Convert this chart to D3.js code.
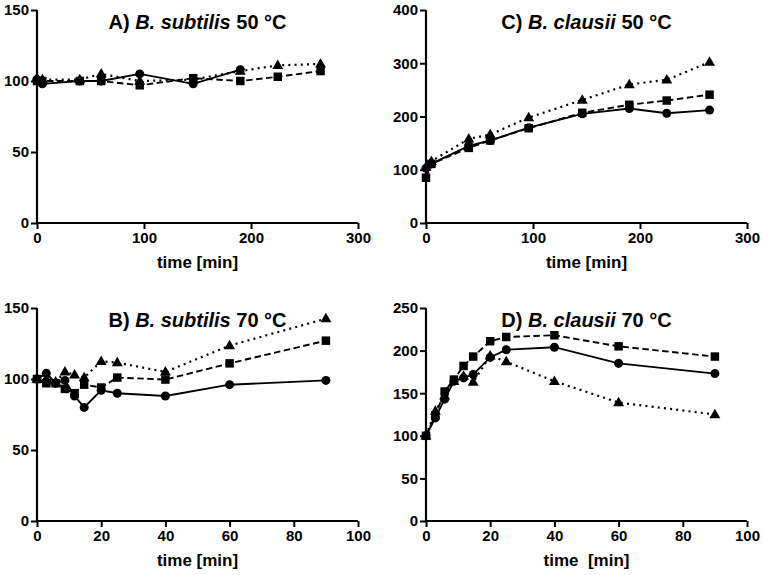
<!DOCTYPE html>
<html>
<head>
<meta charset="utf-8">
<script src="https://cdn.jsdelivr.net/npm/d3@7"></script>
<style>
  html, body { margin: 0; padding: 0; background: #fff; }
  svg { display: block; }
  text { font-family: "Liberation Sans", Arial, sans-serif; font-weight: bold; fill: #000; }
</style>
</head>
<body>
<svg id="chart" width="763" height="575"></svg>
<script>
// ---------- DATA ----------
// Panel A: B. subtilis 50 °C
const timeA_circle = [0, 5, 40, 60, 96, 146, 190];
const A_circle   = [101, 98, 100, 100, 105, 98, 108];
const timeA      = [0, 5, 40, 60, 96, 146, 190, 225, 265];
const A_square   = [100, 100, 100, 100, 97, 102, 100, 103, 107];
const A_triangle = [102, 101, 101, 105, 100, 101, 107, 111, 112];

// Panel C: B. clausii 50 °C
const timeC      = [0, 5, 40, 60, 96, 146, 190, 225, 265];
const C_circle   = [103, 111, 145, 155, 179, 205, 215, 206, 212];
const C_square   = [85, 111, 141, 155, 178, 207, 222, 230, 241];
const C_triangle = [105, 116, 158, 166, 198, 231, 260, 269, 302];

// Panel B: B. subtilis 70 °C
const timeB      = [0, 2.9, 5.8, 8.7, 11.7, 14.7, 20, 25, 40, 60, 90];
const B_circle   = [100, 104, 97, 99, 88, 80, 92, 90, 88, 96, 99];
const B_square   = [100, 97, 97, 93, 90, 96, 94, 101, 99.6, 111, 127];
const B_triangle = [100, 100, 98, 105, 103, 101, 112.5, 111.5, 105, 123.5, 142.5];

// Panel D: B. clausii 70 °C
const timeD      = [0, 2.9, 5.8, 8.7, 11.7, 14.7, 20, 25, 40, 60, 90];
const D_circle   = [100, 121, 143, 164, 168, 172, 192, 201, 204, 185, 173];
const D_square   = [100, 124, 152, 166, 182, 193, 211, 216, 218, 205, 193];
const D_triangle = [100, 129, 147, 164, 170, 163, 194, 187, 164, 139, 125];

// Tick values
const ticksX_long  = [0, 100, 200, 300];
const ticksX_short = [0, 20, 40, 60, 80, 100];
const ticksY_A = [0, 50, 100, 150];
const ticksY_C = [0, 100, 200, 300, 400];
const ticksY_B = [0, 50, 100, 150];
const ticksY_D = [0, 50, 100, 150, 200, 250];

// Titles
const titles = [
  { pre: "A) ", sp: "B. subtilis", post: " 50 °C" },
  { pre: "C) ", sp: "B. clausii", post: " 50 °C" },
  { pre: "B) ", sp: "B. subtilis", post: " 70 °C" },
  { pre: "D) ", sp: "B. clausii", post: " 70 °C" }
];
const xLabels = ["time [min]", "time [min]", "time [min]", "time\u00a0\u00a0[min]"];

// ---------- LAYOUT ----------
const DASH = "6.5,3.5", DOT = "2,4.2";
const panels = [
  { x0: 37, x1: 358, yTop: 10, yBot: 223, xMax: 300, yMax: 150, xt: ticksX_long, yt: ticksY_A,
    series: [
      { t: timeA_circle, v: A_circle, shape: "circle", dash: null },
      { t: timeA, v: A_square, shape: "square", dash: DASH },
      { t: timeA, v: A_triangle, shape: "triangle", dash: DOT }
    ], title: titles[0], xl: xLabels[0] },
  { x0: 426, x1: 747, yTop: 10, yBot: 223, xMax: 300, yMax: 400, xt: ticksX_long, yt: ticksY_C,
    series: [
      { t: timeC, v: C_circle, shape: "circle", dash: null },
      { t: timeC, v: C_square, shape: "square", dash: DASH },
      { t: timeC, v: C_triangle, shape: "triangle", dash: DOT }
    ], title: titles[1], xl: xLabels[1] },
  { x0: 37, x1: 358, yTop: 308, yBot: 521, xMax: 100, yMax: 150, xt: ticksX_short, yt: ticksY_B,
    series: [
      { t: timeB, v: B_circle, shape: "circle", dash: null },
      { t: timeB, v: B_square, shape: "square", dash: DASH },
      { t: timeB, v: B_triangle, shape: "triangle", dash: DOT }
    ], title: titles[2], xl: xLabels[2] },
  { x0: 426, x1: 747, yTop: 308, yBot: 521, xMax: 100, yMax: 250, xt: ticksX_short, yt: ticksY_D,
    series: [
      { t: timeD, v: D_circle, shape: "circle", dash: null },
      { t: timeD, v: D_square, shape: "square", dash: DASH },
      { t: timeD, v: D_triangle, shape: "triangle", dash: DOT }
    ], title: titles[3], xl: xLabels[3] }
];

const svg = d3.select("#chart");

panels.forEach(p => {
  const x = d3.scaleLinear().domain([0, p.xMax]).range([p.x0, p.x1]);
  const y = d3.scaleLinear().domain([0, p.yMax]).range([p.yBot, p.yTop]);
  const g = svg.append("g");

  // axes
  const xAxis = d3.axisBottom(x).tickValues(p.xt).tickSize(6).tickSizeOuter(0).tickPadding(3);
  const yAxis = d3.axisLeft(y).tickValues(p.yt).tickSize(6).tickSizeOuter(0).tickPadding(2);

  const gx = g.append("g").attr("transform", `translate(0,${p.yBot})`).call(xAxis);
  const gy = g.append("g").attr("transform", `translate(${p.x0},0)`).call(yAxis);
  [gx, gy].forEach(a => {
    a.select(".domain").attr("stroke", "#000").attr("stroke-width", 2.2);
    a.selectAll(".tick line").attr("stroke", "#000").attr("stroke-width", 2);
    a.selectAll(".tick text").attr("font-size", 15).attr("font-weight", "bold")
      .attr("font-family", "'Liberation Sans', Arial, sans-serif").attr("fill", "#000");
  });
  gx.select(".domain").attr("d", `M${p.x0 - 1},0H${p.x1}`);
  gy.select(".domain").attr("d", `M0,${p.yTop}V${p.yBot + 1}`);

  // title
  const cx = (p.x0 + p.x1) / 2;
  const t = g.append("text").attr("x", cx).attr("y", p.yTop + 18.5)
    .attr("text-anchor", "middle").attr("font-size", 20);
  t.append("tspan").text(p.title.pre);
  t.append("tspan").attr("font-style", "italic").text(p.title.sp);
  t.append("tspan").text(p.title.post);

  // x label
  g.append("text").attr("x", cx).attr("y", p.yBot + 45)
    .attr("text-anchor", "middle").attr("font-size", 17).text(p.xl);

  // series
  const layer = g.append("g");
  p.series.forEach(s => {
    const pts = s.t.map((tt, i) => [tt, s.v[i]]);
    const line = d3.line().x(d => x(d[0])).y(d => y(d[1]));
    layer.append("path").attr("d", line(pts)).attr("fill", "none")
      .attr("stroke", "#000").attr("stroke-width", s.dash === DOT ? 2.2 : 1.9)
      .attr("stroke-dasharray", s.dash);
  });
  p.series.forEach(s => {
    const pts = s.t.map((tt, i) => [tt, s.v[i]]);
    let sym;
    if (s.shape === "circle") sym = d3.symbol(d3.symbolCircle, 64);
    else if (s.shape === "square") sym = d3.symbol(d3.symbolSquare, 72);
    else sym = d3.symbol(d3.symbolTriangle, 52);
    layer.selectAll(null).data(pts).enter().append("path")
      .attr("d", sym)
      .attr("transform", d => `translate(${x(d[0])},${y(d[1]) + (s.shape === "triangle" ? 0.5 : 0)})`)
      .attr("fill", "#000");
  });
});
</script>
</body>
</html>
